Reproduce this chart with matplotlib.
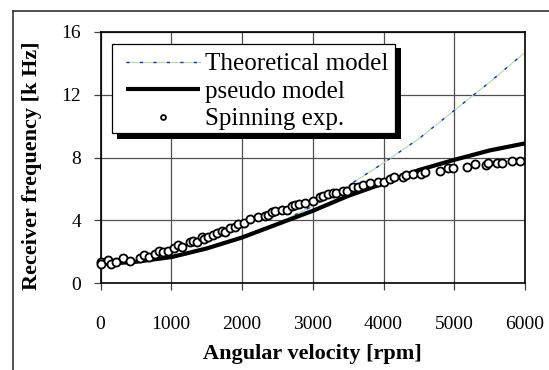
import matplotlib
matplotlib.use('Agg')
import matplotlib.pyplot as plt
from matplotlib.lines import Line2D
from matplotlib.patches import Rectangle

plt.rcParams['font.family'] = ['Liberation Serif', 'DejaVu Serif']

# ---- data ----
model_rpm = [0, 500, 1000, 1500, 2000, 2500, 3000, 3500, 4000, 4500, 5000, 5500, 6000]
theoretical = [1.2, 1.35, 1.65, 2.2, 2.9, 3.8, 4.9, 6.2, 7.65, 9.2, 11.0, 12.8, 14.7]
pseudo = [1.2, 1.35, 1.65, 2.2, 2.9, 3.75, 4.6, 5.55, 6.35, 7.2, 7.85, 8.45, 8.9]

exp_rpm = [0, 0, 110, 148, 215, 322, 417, 558, 620, 685, 770, 827, 888, 959, 1044,
           1100, 1157, 1265, 1312, 1360, 1430, 1467, 1524, 1595, 1642, 1713, 1760,
           1830, 1901, 1948, 2028, 2113, 2231, 2325, 2372, 2419, 2466, 2560, 2631,
           2702, 2749, 2810, 2890, 2999, 3102, 3149, 3220, 3291, 3329, 3432, 3489,
           3574, 3644, 3715, 3809, 3927, 4007, 4092, 4148, 4280, 4318, 4421, 4526,
           4587, 4799, 4916, 4978, 5185, 5293, 5449, 5482, 5609, 5670, 5812, 5929]
exp_freq = [1.36, 1.19, 1.46, 1.19, 1.36, 1.57, 1.42, 1.57, 1.78, 1.68, 1.83, 2.04,
            1.95, 2.04, 2.21, 2.42, 2.31, 2.63, 2.68, 2.63, 2.95, 2.80, 2.95, 3.06,
            3.17, 3.31, 3.27, 3.48, 3.59, 3.74, 3.84, 4.06, 4.22, 4.29, 4.33, 4.54,
            4.59, 4.65, 4.65, 4.90, 4.97, 5.03, 5.11, 5.24, 5.50, 5.54, 5.65, 5.71,
            5.75, 5.88, 5.88, 6.10, 6.14, 6.24, 6.35, 6.41, 6.45, 6.60, 6.73, 6.77,
            6.88, 6.94, 6.94, 7.09, 7.15, 7.30, 7.30, 7.41, 7.56, 7.52, 7.66, 7.66,
            7.66, 7.79, 7.79]

x_ticks = [0, 1000, 2000, 3000, 4000, 5000, 6000]
y_ticks = [0, 4, 8, 12, 16]
labels = ['Theoretical model', 'pseudo model', 'Spinning exp.']
x_title = 'Angular velocity [rpm]'
y_title = 'Receiver frequency [k Hz]'

# ---- figure ----
W, H = 549, 370
fig = plt.figure(figsize=(W / 100, H / 100), dpi=100)
fig.patch.set_facecolor('white')

# outer frame lines (top and left)
fig.add_artist(Line2D([13 / W, 1.0], [1 - 11 / H, 1 - 11 / H], color='#333333', lw=1.2,
                      transform=fig.transFigure))
fig.add_artist(Line2D([13 / W, 13 / W], [0, 1 - 11 / H], color='#333333', lw=1.2,
                      transform=fig.transFigure))

ax = fig.add_axes([100.5 / W, 1 - 283 / H, (525 - 100.5) / W, (283 - 32) / H])
ax.set_xlim(0, 6000)
ax.set_ylim(0, 16)
ax.set_xticks(x_ticks)
ax.set_yticks(y_ticks)
ax.grid(True, color='#505050', lw=0.9)
ax.set_axisbelow(True)
for s in ax.spines.values():
    s.set_color('black')
    s.set_linewidth(1.2)
ax.tick_params(axis='both', direction='out', length=5, width=0.9, color='#404040',
               labelsize=14)
ax.tick_params(axis='x', pad=19)
ax.tick_params(axis='y', pad=9)

l_green, = ax.plot(model_rpm, theoretical, color='#b5dcb5', lw=0.9, zorder=2)
l_blue, = ax.plot(model_rpm, theoretical, color='#1a2dbf', lw=1.0, zorder=2.1,
                  dashes=(2.2, 7.5))
l_pseudo, = ax.plot(model_rpm, pseudo, color='black', lw=3.0, zorder=3,
                    solid_capstyle='butt')
l_exp, = ax.plot(exp_rpm, exp_freq, linestyle='none', marker='o', markersize=5.8,
                 markerfacecolor='white', markeredgecolor='black',
                 markeredgewidth=1.3, zorder=4, clip_on=False)

# legend box with hard shadow
ax.add_patch(Rectangle((117 / W, 1 - 139 / H), (401 - 117) / W, (139 - 48) / H,
                       transform=fig.transFigure, facecolor='black', edgecolor='none',
                       zorder=4.8, clip_on=False))
ax.add_patch(Rectangle((112 / W, 1 - 133 / H), (395 - 112) / W, (133 - 44) / H,
                       transform=fig.transFigure, facecolor='white', edgecolor='black',
                       lw=0.9, zorder=4.9, clip_on=False))
leg = ax.legend([(l_green, l_blue), l_pseudo, l_exp], labels, loc='upper left',
                bbox_to_anchor=(126 / W, 1 - 53 / H), bbox_transform=fig.transFigure,
                frameon=False, fontsize=18, handlelength=2.95, handletextpad=0.2,
                labelspacing=0.2, borderpad=0, borderaxespad=0, markerscale=0.6)
leg.set_zorder(5)

fig.text(312 / W, 1 - 354 / H, x_title, ha='center', va='center', fontsize=16,
         fontweight='bold')
fig.text(32 / W, 1 - 166 / H, y_title, ha='center', va='center', fontsize=16,
         fontweight='bold', rotation=90)

fig.savefig('out.png', dpi=100)
